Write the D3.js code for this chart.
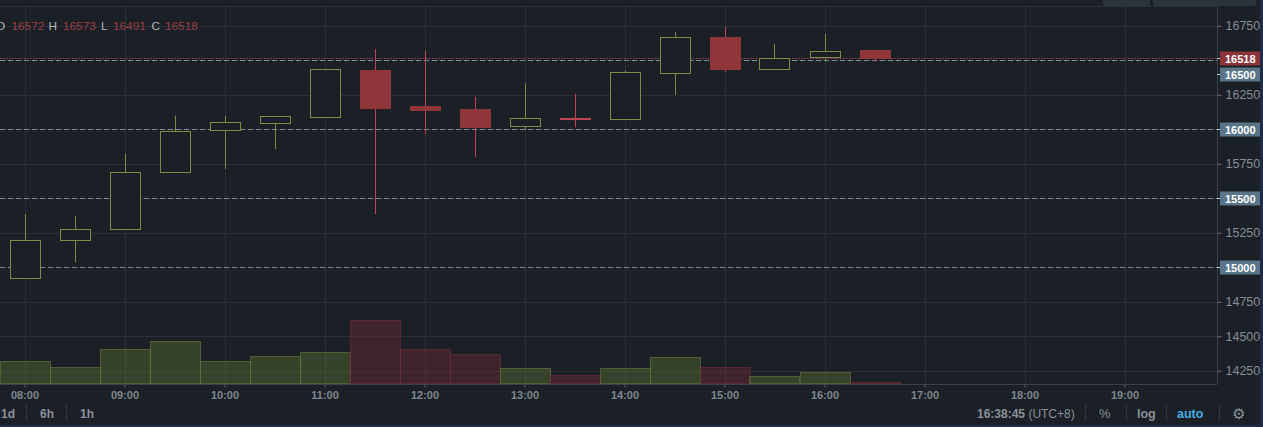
<!DOCTYPE html>
<html><head><meta charset="utf-8">
<script src="https://cdn.jsdelivr.net/npm/d3@7"></script>
<style>
html,body{margin:0;padding:0;background:#1b2027;overflow:hidden}
svg{display:block;font-family:"Liberation Sans",Arial,Helvetica,sans-serif}
</style></head><body>
<svg id="c" width="1263" height="427"></svg>
<script>
// ---- data ----
const times   = ["08:00","08:30","09:00","09:30","10:00","10:30","11:00","11:30","12:00","12:30","13:00","13:30","14:00","14:30","15:00","15:30","16:00","16:30"];
const opens   = [14925,15196,15275,15688,15993,16043,16091,16428,16169,16147,16026,16082,16077,16410,16671,16439,16522,16572];
const highs   = [15386,15370,15823,16099,16099,16094,16435,16582,16570,16234,16333,16256,16425,16705,16743,16618,16691,16573];
const lows    = [14925,15036,15275,15688,15712,15857,16091,15386,15966,15801,15995,16014,16077,16249,16413,16439,16490,16491];
const closes  = [15196,15275,15688,15986,16051,16094,16435,16154,16140,16017,16080,16078,16413,16669,16437,16519,16567,16518];
const volumes = [230,170,340,430,230,280,320,640,350,300,160,90,150,270,170,80,120,20];
const priceTicks   = [14250,14500,14750,15250,15750,16250,16750];
const markedLevels = [15000,15500,16000,16500];
const gridLevels   = [14250,14500,14750,15000,15250,15500,15750,16000,16250,16500,16750];
const lastPrice    = 16518;
const timeTicks    = ["08:00","09:00","10:00","11:00","12:00","13:00","14:00","15:00","16:00","17:00","18:00","19:00"];
const legendLabels = ["O","H","L","C"];
const legendValues = [16572,16573,16491,16518];
const intervalButtons = ["1d","6h","1h"];
const clockText = "16:38:45";
const zoneText  = "(UTC+8)";
const scaleButtons = ["%","log","auto"];

// ---- scales ----
const parse = d3.timeParse("%H:%M");
const svg = d3.select("#c");
const plotRight = 1217, plotTop = 7, plotBottom = 384;
const x = d3.scaleTime().domain([parse("08:00"), parse("19:00")]).range([24.5, 1124.5]);
const y = d3.scaleLinear().domain([14250, 16750]).range([370.8, 25.8]);
const v = d3.scaleLinear().domain([0, 1000]).range([383.5, 283.5]);

const GREEN = "#7d8c44", RED = "#8e3639", REDWICK = "#bc4453";
const candles = times.map((t,i)=>({t:parse(t),o:opens[i],h:highs[i],l:lows[i],c:closes[i],vol:volumes[i]}));

// top bar
svg.append("rect").attr("x",1103).attr("y",-3).attr("width",47).attr("height",9).attr("rx",2).attr("fill","#2b333c");
svg.append("rect").attr("x",1153).attr("y",-3).attr("width",103).attr("height",9).attr("rx",2).attr("fill","#2b333c");
svg.append("line").attr("x1",0).attr("x2",plotRight).attr("y1",6.5).attr("y2",6.5).attr("stroke","#2a3038");

// grid
const grid = svg.append("g").attr("stroke","#2a3038").attr("stroke-width",1);
grid.selectAll("line.h").data(gridLevels).join("line").attr("class","h")
  .attr("x1",0).attr("x2",plotRight).attr("y1",d=>Math.round(y(d))+0.5).attr("y2",d=>Math.round(y(d))+0.5);
grid.selectAll("line.v").data(timeTicks).join("line").attr("class","v")
  .attr("y1",plotTop).attr("y2",plotBottom).attr("x1",d=>Math.round(x(parse(d)))+0.5).attr("x2",d=>Math.round(x(parse(d)))+0.5);

// volume bars
svg.append("g").selectAll("rect").data(candles).join("rect")
  .attr("x",d=>Math.round(x(d.t))-25+0.5).attr("width",50)
  .attr("y",d=>Math.round(v(d.vol))+0.5).attr("height",d=>383.5-Math.round(v(d.vol))-0.5)
  .attr("fill",d=>d.c>=d.o?"rgba(95,115,50,0.42)":"rgba(115,42,55,0.42)")
  .attr("stroke",d=>d.c>=d.o?"rgba(110,130,60,0.55)":"rgba(120,45,58,0.55)");

// marked dashed levels
svg.append("g").selectAll("line").data(markedLevels).join("line")
  .attr("x1",0).attr("x2",plotRight).attr("y1",d=>Math.round(y(d))+0.5).attr("y2",d=>Math.round(y(d))+0.5)
  .attr("stroke","#7c8a94").attr("stroke-dasharray","5,3");
// last price dotted
svg.append("line").attr("x1",0).attr("x2",plotRight)
  .attr("y1",Math.round(y(lastPrice))+0.5).attr("y2",Math.round(y(lastPrice))+0.5)
  .attr("stroke","#a3404d").attr("stroke-dasharray","1.5,1.5");

// candles
const cg = svg.append("g");
cg.selectAll("line").data(candles).join("line")
  .attr("x1",d=>Math.round(x(d.t))+0.5).attr("x2",d=>Math.round(x(d.t))+0.5)
  .attr("y1",d=>y(d.h)).attr("y2",d=>y(d.l))
  .attr("stroke",d=>d.c>=d.o?GREEN:REDWICK);
cg.selectAll("rect").data(candles).join("rect")
  .attr("x",d=>Math.round(x(d.t))-15+0.5).attr("width",30)
  .attr("y",d=>Math.round(y(Math.max(d.o,d.c)))+0.5)
  .attr("height",d=>Math.max(0.01,Math.round(y(Math.min(d.o,d.c)))-Math.round(y(Math.max(d.o,d.c)))))
  .attr("fill",d=>d.c>=d.o?"#1b2027":RED)
  .attr("stroke",d=>d.c>=d.o?GREEN:(Math.abs(d.c-d.o)<10?REDWICK:RED));

// axes frame
svg.append("line").attr("x1",plotRight+0.5).attr("x2",plotRight+0.5).attr("y1",plotTop).attr("y2",plotBottom).attr("stroke","#3a4149");
svg.append("line").attr("x1",0).attr("x2",plotRight).attr("y1",plotBottom+0.5).attr("y2",plotBottom+0.5).attr("stroke","#3a4149");

// y axis
const ya = svg.append("g").attr("transform",`translate(${plotRight+0.5},0)`)
  .call(d3.axisRight(y).tickValues(priceTicks).tickSize(4).tickPadding(4).tickFormat(d3.format("d")));
ya.select(".domain").remove();
ya.selectAll("line").attr("stroke","#6b737b");
ya.selectAll("text").attr("fill","#868d94").attr("font-size",12.5).attr("font-family","Liberation Sans, Arial, sans-serif");

// badges (last price first; others pushed away if overlapping)
const lastY = Math.round(y(lastPrice));
const badges = [{val:lastPrice,col:"#8e3438",py:lastY}].concat(markedLevels.map(d=>{
  let py = Math.round(y(d));
  if (Math.abs(py-lastY) < 16) py = py > lastY - 1 ? lastY + 16 : lastY - 16;
  return {val:d,col:"#5a7588",py:py};
}));
const bg = svg.append("g");
bg.selectAll("line").data(badges).join("line")
  .attr("x1",plotRight).attr("x2",plotRight+4).attr("y1",d=>d.py+0.5).attr("y2",d=>d.py+0.5)
  .attr("stroke","#c8ced3");
bg.selectAll("rect").data(badges).join("rect")
  .attr("x",plotRight+3).attr("width",40).attr("y",d=>d.py-6.5).attr("height",14)
  .attr("fill",d=>d.col);
bg.selectAll("text").data(badges).join("text")
  .attr("x",plotRight+8).attr("y",d=>d.py+4.5)
  .attr("fill","#ffffff").attr("font-weight","bold").attr("font-size",11)
  .text(d=>d.val);

// x axis
const xa = svg.append("g").attr("transform",`translate(0,${plotBottom+0.5})`)
  .call(d3.axisBottom(x).tickValues(timeTicks.map(parse)).tickSize(3).tickPadding(4).tickFormat(d3.timeFormat("%H:%M")));
xa.select(".domain").remove();
xa.selectAll("line").attr("stroke","#5a6168");
xa.selectAll("text").attr("fill","#80878e").attr("font-size",11).attr("font-weight","bold").attr("font-family","Liberation Sans, Arial, sans-serif");

// legend
const legX = [[-4,11.5],[48.5,63],[101,113],[151.5,165]];
const lg = svg.append("g").attr("font-size",11.8);
legendLabels.forEach((lab,i)=>{
  lg.append("text").attr("x",legX[i][0]).attr("y",30).attr("fill","#b3b9be").text(lab);
  lg.append("text").attr("x",legX[i][1]).attr("y",30).attr("fill","#9a3e42").text(legendValues[i]);
});

// bottom bar
const bb = svg.append("g").attr("font-size",12).attr("fill","#8a9097");
const ibX = [1,40,80];
intervalButtons.forEach((t,i)=>bb.append("text").attr("x",ibX[i]).attr("y",418).attr("font-weight","bold").text(t));
const sepX = [26.5,66.5,1085.5,1126.5,1166.5,1219.5];
bb.selectAll("line").data(sepX).join("line").attr("x1",d=>d).attr("x2",d=>d).attr("y1",405).attr("y2",421).attr("stroke","#30373f");
const clk = bb.append("text").attr("x",977).attr("y",418);
clk.append("tspan").attr("font-weight","bold").text(clockText);
clk.append("tspan").text(" "+zoneText);
const sbX = [1099,1137,1177];
scaleButtons.forEach((t,i)=>bb.append("text").attr("x",sbX[i]).attr("y",418)
  .attr("font-weight",i===0?"normal":"bold").attr("font-size",i===0?13:12.5)
  .attr("fill",t==="auto"?"#45aee3":"#8a9097").text(t));
bb.append("text").attr("x",1239).attr("y",419).attr("text-anchor","middle").attr("font-size",15)
  .attr("font-family","DejaVu Sans").attr("fill","#8a9097").text("\u2699");

// navy borders
svg.append("rect").attr("x",1260).attr("y",0).attr("width",3).attr("height",427).attr("fill","#1e2a4e");
svg.append("rect").attr("x",0).attr("y",425).attr("width",1263).attr("height",2).attr("fill","#1e2a4e");
</script>
</body></html>
